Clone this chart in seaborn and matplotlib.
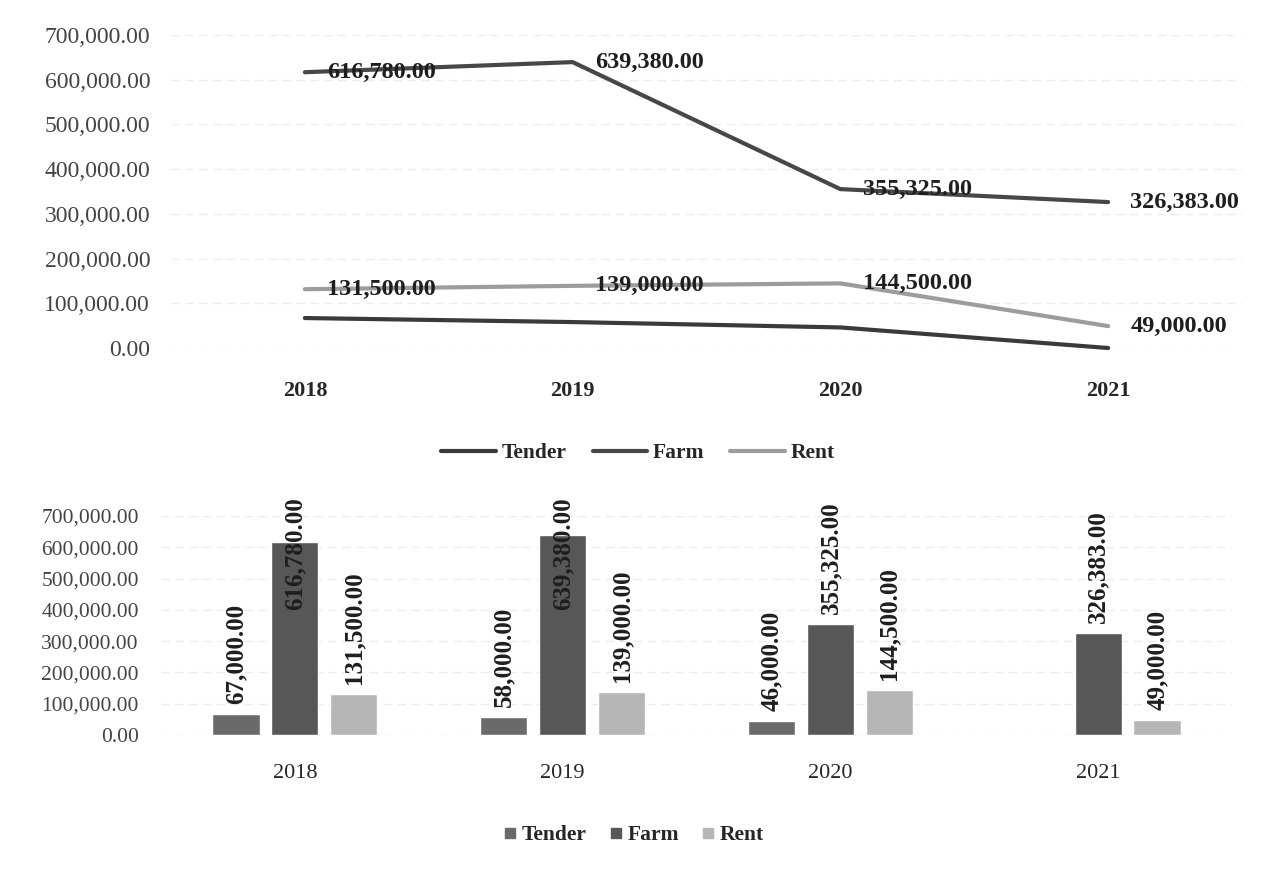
import pandas as pd
import matplotlib.pyplot as plt
import seaborn as sns

years = ["2018", "2019", "2020", "2021"]
series = ["Tender", "Farm", "Rent"]
tender = [67000, 58000, 46000, 0]
farm = [616780, 639380, 355325, 326383]
rent = [131500, 139000, 144500, 49000]
yticks = [0, 100000, 200000, 300000, 400000, 500000, 600000, 700000]

line_colors = {"Tender": "#3a3a3a", "Farm": "#474747", "Rent": "#9c9c9c"}
bar_colors = {"Tender": "#6a6a6a", "Farm": "#575757", "Rent": "#b6b6b6"}

df = pd.DataFrame({
    "year": years * 3,
    "series": ["Tender"] * 4 + ["Farm"] * 4 + ["Rent"] * 4,
    "value": tender + farm + rent,
})

sns.set_style("white")
plt.rcParams["font.family"] = ["Liberation Serif", "DejaVu Serif"]

W, H = 1271, 877
fig = plt.figure(figsize=(W / 100, H / 100), dpi=100)

# ---------------- top: line chart ----------------
ax1 = fig.add_axes([171 / W, 1 - 348 / H, 1071 / W, 313 / H])
sns.lineplot(data=df, x="year", y="value", hue="series", hue_order=series,
             palette=line_colors, linewidth=3, ax=ax1, legend=False,
             errorbar=None, sort=False)
for ln in ax1.lines:
    ln.set_clip_on(False)
    ln.set_solid_joinstyle("miter")

ax1.set_xlim(-0.5, 3.5)
ax1.set_ylim(0, 700000)
ax1.set_yticks(yticks)
ax1.set_yticklabels([f"{v:,.2f}" for v in yticks], fontsize=17, color="#444444")
ax1.tick_params(axis="y", length=0, pad=15)
ax1.tick_params(axis="x", length=0, pad=24)
for lab in ax1.get_xticklabels():
    lab.set_fontsize(16)
    lab.set_fontweight("bold")
ax1.set_xlabel("")
ax1.set_ylabel("")
ax1.grid(axis="y", color="#ececec", linewidth=1, linestyle=(0, (6, 4)))
ax1.set_axisbelow(True)
sns.despine(ax=ax1, left=True, bottom=True)

for vals in (farm, rent):
    for i, v in enumerate(vals):
        ax1.annotate(f"{v:,.2f}", xy=(i, v), xytext=(16, 0), textcoords="offset points",
                     ha="left", va="center", fontsize=17.5, fontweight="bold",
                     color="#1e1e1e", annotation_clip=False)

h1 = [plt.Line2D([], [], color=line_colors[s], linewidth=3) for s in series]
fig.legend(h1, series, loc="center", bbox_to_anchor=(638 / W, 1 - 453 / H), ncol=3,
           frameon=False, prop={"size": 15.5, "weight": "bold"}, handlelength=2.55,
           handletextpad=0.25, columnspacing=1.2)

# ---------------- bottom: bar chart ----------------
ax2 = fig.add_axes([161 / W, 1 - 735 / H, 1071 / W, 219 / H])
sns.barplot(data=df, x="year", y="value", hue="series", hue_order=series,
            palette=bar_colors, width=0.66, gap=0.2, ax=ax2, legend=False,
            errorbar=None, saturation=1)

ax2.set_xlim(-0.5, 3.5)
ax2.set_ylim(0, 700000)
ax2.set_yticks(yticks)
ax2.set_yticklabels([f"{v:,.2f}" for v in yticks], fontsize=15.5, color="#444444")
ax2.tick_params(axis="y", length=0, pad=16)
ax2.tick_params(axis="x", length=0, pad=21)
for lab in ax2.get_xticklabels():
    lab.set_fontsize(16)
ax2.set_xlabel("")
ax2.set_ylabel("")
ax2.grid(axis="y", color="#ececec", linewidth=1, linestyle=(0, (6, 4)))
ax2.set_axisbelow(True)
sns.despine(ax=ax2, left=True, bottom=True)

bar_texts = []
for cont in ax2.containers:
    for bar in cont:
        v = bar.get_height()
        if v <= 0:
            continue
        t = ax2.annotate(f"{v:,.2f}", xy=(bar.get_x() + bar.get_width() / 2, v),
                         xytext=(0, 7), textcoords="offset points", rotation=90,
                         ha="center", va="bottom", fontsize=18, fontweight="bold",
                         color="#1e1e1e", annotation_clip=False)
        bar_texts.append(t)

# labels that would run above the chart area are pushed down, as in the source
fig.canvas.draw()
top_px = H - 497
for t in bar_texts:
    bb = t.get_window_extent()
    if bb.y1 > top_px:
        t.set_position((0, 7 - (bb.y1 - top_px) * 72 / 100))

h2 = [plt.Line2D([], [], color=bar_colors[s], marker="s", linestyle="none", markersize=7.5)
      for s in series]
fig.legend(h2, series, loc="center", bbox_to_anchor=(633 / W, 1 - 835 / H), ncol=3,
           frameon=False, prop={"size": 15.5, "weight": "bold"}, handlelength=0.7,
           handletextpad=0.2, columnspacing=1.0)

fig.savefig("out.png", dpi=100)
